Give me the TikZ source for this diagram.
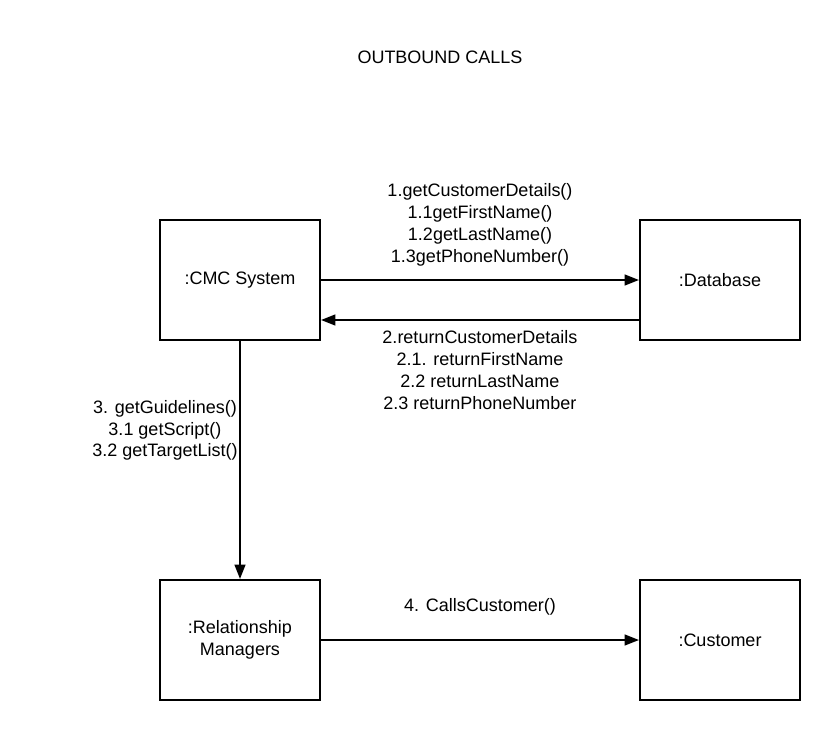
\documentclass[tikz,border=0pt]{standalone}
\usepackage{fontspec}
\setmainfont{Liberation Sans}
\usepackage{tikz}
\usetikzlibrary{shapes, arrows, arrows.meta, calc}
\tikzstyle{objet} = [
    rectangle,
    minimum width = 4cm,
    minimum height = 3cm,
    text centered,
    align = center,
    line width = 1.4pt,
    draw = black,
]
\tikzstyle{message} = [
    align = center,
    inner sep = 0pt,
]
\tikzstyle{fleche} = [
    line width = 1.4pt,
    -{Triangle[length = 0.36cm, width = 0.27cm]},
]

\begin{document}
\begin{tikzpicture} [node distance = 1.5cm, font = \fontsize{12.8}{15.6}\selectfont]
    \useasboundingbox (0, 0) rectangle (21, -18.5);

    \node (Titre) at (11, -1.425) {OUTBOUND CALLS};

    \node (CMC) [objet] at (6, -7) {:CMC System};
    \node (Database) [objet, right of = CMC, xshift = 10.5cm] {:Database};
    \node (Managers) [objet, below of = CMC, yshift = -7.5cm] {:Relationship\\Managers};
    \node (Customer) [objet, right of = Managers, xshift = 10.5cm] {:Customer};

    \node (Demandes) [message] at (12, -5.625) {1.getCustomerDetails()\\1.1getFirstName()\\1.2getLastName()\\1.3getPhoneNumber()};
    \node (Retours) [message] at (12, -9.26) {2.returnCustomerDetails\\2.1. returnFirstName\\2.2 returnLastName\\2.3 returnPhoneNumber};
    \node (Consignes) [message] at (4.125, -10.76) {3. getGuidelines()\\3.1 getScript()\\3.2 getTargetList()};
    \node (Appel) [message] at (12, -15.175) {4. CallsCustomer()};

    \draw[fleche] (CMC) -- (Database);
    \draw[fleche] ($(Database.west) - (0, 1)$) -- ($(CMC.east) - (0, 1)$);
    \draw[fleche] (CMC) -- (Managers);
    \draw[fleche] (Managers) -- (Customer);
\end{tikzpicture}
\end{document}
